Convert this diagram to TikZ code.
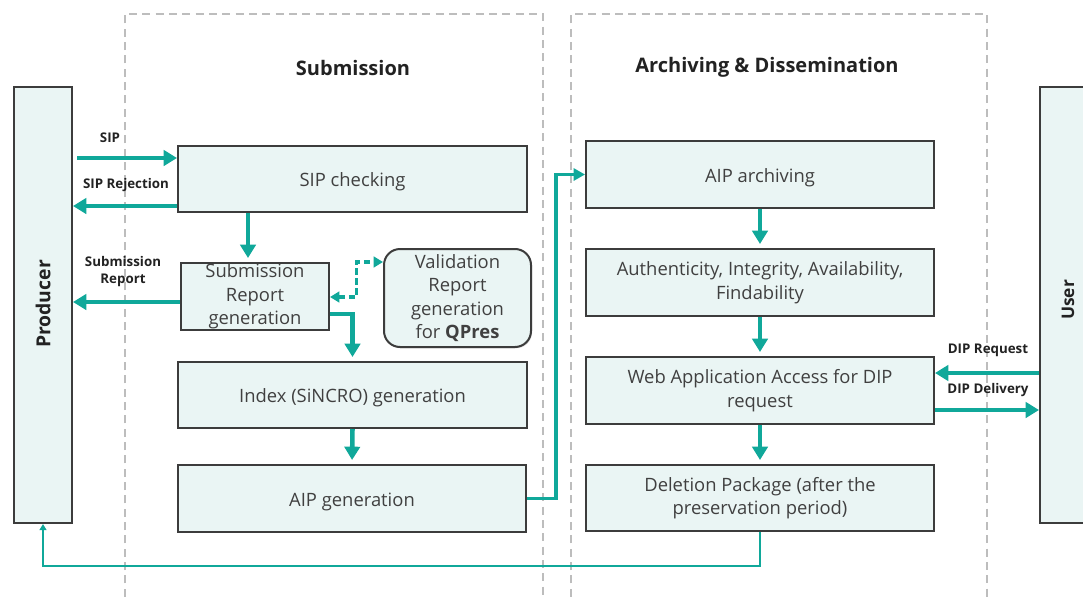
\documentclass[tikz,border=0pt]{standalone}
\usepackage{fontspec}
\setmainfont{Open Sans}
\usetikzlibrary{arrows.meta,calc,shadows}
\definecolor{tealA}{HTML}{10A89A}
\definecolor{boxfill}{HTML}{EAF5F4}
\definecolor{boxline}{HTML}{3C3C3C}
\definecolor{txt}{HTML}{404040}
\definecolor{dashgray}{HTML}{BDBDBD}
\definecolor{lbltxt}{HTML}{222222}
\begin{document}
\begin{tikzpicture}[x=0.75pt,y=-0.75pt,
  wh/.style 2 args={minimum width=#1*0.75pt, minimum height=#2*0.75pt},
  box/.style={draw=boxline, line width=1.5pt, fill=boxfill, text=txt,
    font=\fontsize{13.8}{17.6}\selectfont, align=center, inner sep=0pt,
    execute at begin node={\rule{0pt}{15pt}},
    drop shadow={shadow xshift=0.8pt, shadow yshift=-1pt, opacity=0.25}},
  side/.style={draw=boxline, line width=1.5pt, fill=boxfill, inner sep=0pt},
  region/.style={draw=dashgray, line width=1.5pt, dash pattern=on 6pt off 4pt},
  title/.style={font=\bfseries\fontsize{15}{18}\selectfont, text=lbltxt},
  lbl/.style={font=\bfseries\fontsize{10}{12.75}\selectfont, text=lbltxt, align=center, inner sep=0pt},
  arr/.style={draw=tealA, line width=3.4pt, -{Triangle[length=10pt,width=11.5pt]}},
  arrB/.style={draw=tealA, line width=2.3pt, -{Triangle[length=8.5pt,width=9pt]}},
  arrC/.style={draw=tealA, line width=1.6pt, -{Triangle[length=4.5pt,width=5pt]}},
  dasharr/.style={draw=tealA, line width=2.3pt, dash pattern=on 5pt off 2.5pt,
    {Triangle[length=7pt,width=8pt]}-{Triangle[length=7pt,width=8pt]}},
]
\useasboundingbox (0,0) rectangle (1083,600);
\fill[white] (0,0) rectangle (1083,600);

% regions
\draw[region] (125,610) -- (125,14) -- (543,14) -- (543,610);
\draw[region] (571,610) -- (571,14) -- (987,14) -- (987,610);
\node[title] (tsub) at (353,68) {Submission};
\node[title] (tarc) at (767,67) {Archiving \& Dissemination};

% side actors
\node[side, wh={58}{436}] (producer) at (43,305) {};
\node[rotate=90, font=\bfseries\fontsize{14.5}{17}\selectfont, text=lbltxt] (producerlbl) at (43,304) {Producer};
\node[side, wh={58}{436}] (user) at (1069,305) {};
\node[rotate=90, font=\bfseries\fontsize{13}{16}\selectfont, text=lbltxt] (userlbl) at (1068,300) {User};

% submission boxes
\node[box, wh={349}{66}] (sipc) at (352.5,179) {SIP checking};
\node[box, wh={148}{67}] (srg) at (255,296.5) {Submission\\Report\\generation};
\node[box, wh={147}{98}, rounded corners=12pt] (val) at (457.5,298) {Validation\\Report\\generation\\for \textbf{QPres}};
\node[box, wh={349}{66}] (idx) at (352.5,395) {Index (SiNCRO) generation};
\node[box, wh={348}{67}] (aipg) at (352,498.5) {AIP generation};

% archiving boxes
\node[box, wh={348}{67}] (aipa) at (760,174.5) {AIP archiving};
\node[box, wh={348}{67}] (auth) at (760,282.5) {Authenticity, Integrity, Availability,\\Findability};
\node[box, wh={348}{67}] (web) at (760,390.5) {Web Application Access for DIP\\request};
\node[box, wh={348}{66}] (del) at (760,498) {Deletion Package (after the\\preservation period)};

% coordinates
\coordinate (sipIn) at ($(sipc.west)+(0,-21)$);
\coordinate (rejOut) at ($(sipc.west)+(0,27)$);
\coordinate (a1) at ($(srg.north)+(-7,0)$);
\coordinate (srOut) at ($(srg.west)+(0,5.5)$);
\coordinate (d1) at ($(srg.east)+(0,0.5)$);
\coordinate (d2) at ($(val.west)+(0,-36)$);
\coordinate (dm) at ($(d1)!0.5!(d2)$);
\coordinate (e1) at ($(srg.east)+(0,17.5)$);
\coordinate (m) at ($(aipg.east)!0.5!(aipa.west)$);
\coordinate (ret) at ($(del.south)+(0,34)$);
\coordinate (dq) at ($(web.east)+(0,-17.5)$);
\coordinate (dd) at ($(web.east)+(0,19.5)$);

% connectors
\draw[arr, shorten <=3pt] (producer.east |- sipIn) -- (sipIn);
\draw[arr] (rejOut) -- (producer.east |- rejOut);
\draw[arr, shorten >=3pt] (sipc.south -| a1) -- (a1);
\draw[arr] (srOut) -- (producer.east |- srOut);
\draw[dasharr] (d1) -- (d1 -| dm) -- (dm |- d2) -- (d2);
\draw[arr, shorten >=3pt] (e1) -| (idx.north);
\draw[arr, shorten >=3pt] (idx.south) -- (aipg.north);
\draw[arrB] (aipg.east) -- (aipg.east -| m) -- (m |- aipa.west) -- (aipa.west);
\draw[arr, shorten >=3pt] (aipa.south) -- (auth.north);
\draw[arr, shorten >=3pt] (auth.south) -- (web.north);
\draw[arr, shorten >=3pt] (web.south) -- (del.north);
\draw[arrC] (del.south) -- (ret) -| (producer.south);
\draw[arr] (user.west |- dq) -- (dq);
\draw[arr] (dd) -- (user.west |- dd);

% labels
\node[lbl] (lsip) at (110,138) {SIP};
\node[lbl] (lrej) at (126,185) {SIP Rejection};
\node[lbl] (lsr) at (123,272) {Submission\\Report};
\node[lbl] (ldq) at (988,350) {DIP Request};
\node[lbl] (ldd) at (988,390) {DIP Delivery};
\end{tikzpicture}
\end{document}
